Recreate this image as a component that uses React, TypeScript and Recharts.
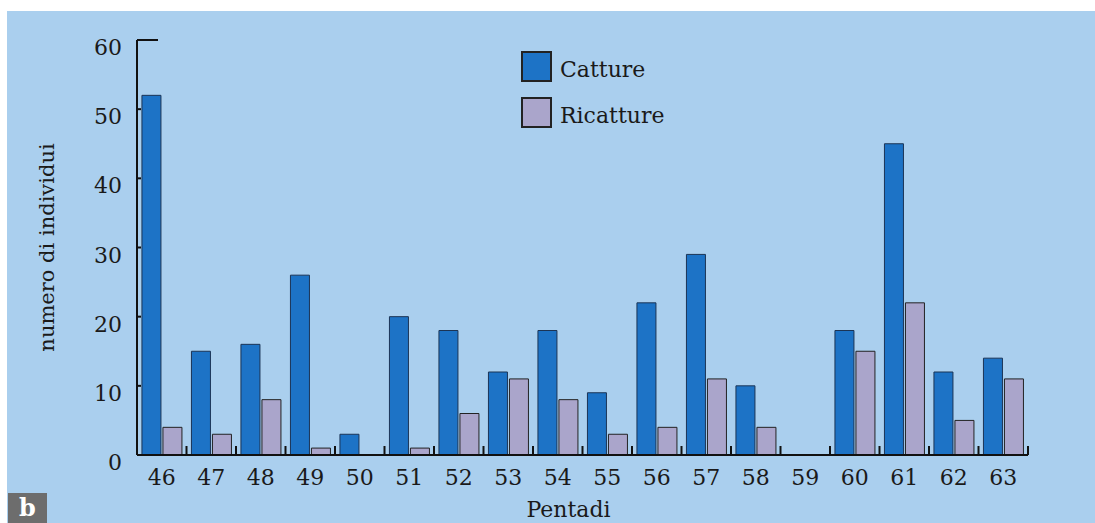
import React from 'react';
import { BarChart, Bar, XAxis, YAxis, Legend, Label } from 'recharts';

const pentadi = ['46', '47', '48', '49', '50', '51', '52', '53', '54', '55', '56', '57', '58', '59', '60', '61', '62', '63'];
const catture = [52, 15, 16, 26, 3, 20, 18, 12, 18, 9, 22, 29, 10, 0, 18, 45, 12, 14];
const ricatture = [4, 3, 8, 1, 0, 1, 6, 11, 8, 3, 4, 11, 4, 0, 15, 22, 5, 11];
const yTicks = [0, 10, 20, 30, 40, 50, 60];

const data = pentadi.map((p, i) => ({ p, catture: catture[i], ricatture: ricatture[i] }));

const FONT = '"DejaVu Serif", "Liberation Serif", serif';
const BG = '#aacfee';
const BLUE = '#1d73c6';
const LAV = '#aaa5cb';

const YTick = (props: any) => {
  const { x, y, payload } = props;
  const v = payload.value;
  return (
    <g>
      <text x={x - 15} y={y + 15} textAnchor="end" fontFamily={FONT} fontSize={22} fill="#1a1a1a">
        {v}
      </text>
      {v === 60 && <line x1={x} x2={x + 21} y1={y} y2={y} stroke="#111" strokeWidth={2} />}
      {v > 0 && v < 60 && <line x1={x} x2={x + 4} y1={y} y2={y} stroke="#111" strokeWidth={2} />}
    </g>
  );
};

const XTick = (props: any) => {
  const { x, y, payload, width, visibleTicksCount } = props;
  const half = payload && payload.offset ? payload.offset : width / visibleTicksCount / 2;
  return (
    <g>
      <text x={x} y={y + 30} textAnchor="middle" fontFamily={FONT} fontSize={22} fill="#1a1a1a">
        {payload.value}
      </text>
      <line x1={x + half} x2={x + half} y1={y} y2={y - 9} stroke="#111" strokeWidth={2} />
    </g>
  );
};

const LegendContent = (props: any) => {
  const { payload } = props;
  return (
    <div style={{ fontFamily: FONT }}>
      {(payload || []).map((e: any) => (
        <div key={e.value} style={{ display: 'flex', alignItems: 'center', height: 46 }}>
          <div
            style={{
              width: 27,
              height: 27,
              background: e.color,
              border: '2px solid #222',
              marginRight: 8,
            }}
          />
          <span style={{ fontSize: 22, color: '#1a1a1a', marginTop: 6 }}>{e.value}</span>
        </div>
      ))}
    </div>
  );
};

export default function App() {
  return (
    <div style={{ position: 'absolute', left: 0, top: 0, width: 1095, height: 523, background: '#ffffff', overflow: 'hidden' }}>
      <div style={{ position: 'absolute', left: 7, top: 11, width: 1088, height: 512, background: BG }} />
      <div style={{ position: 'absolute', left: 0, top: 0 }}>
        <BarChart
          width={1095}
          height={523}
          data={data}
          margin={{ top: 40, right: 67, bottom: 38, left: 0 }}
          barCategoryGap="10%"
          barGap={2}
        >
          <XAxis
            dataKey="p"
            height={30}
            tickSize={0}
            tickMargin={0}
            tickLine={false}
            interval={0}
            axisLine={{ stroke: '#111', strokeWidth: 2 }}
            tick={<XTick />}
          >
            <Label
              value="Pentadi"
              content={(p: any) => {
                const vb = p.viewBox;
                return (
                  <text x={vb.x + vb.width / 2 - 14} y={vb.y + 62} textAnchor="middle" fontFamily={FONT} fontSize={22} fill="#1a1a1a">
                    Pentadi
                  </text>
                );
              }}
            />
          </XAxis>
          <YAxis
            width={137}
            domain={[0, 60]}
            ticks={yTicks}
            tickSize={0}
            tickMargin={0}
            tickLine={false}
            interval={0}
            axisLine={{ stroke: '#111', strokeWidth: 2 }}
            tick={<YTick />}
          >
            <Label
              value="numero di individui"
              content={(p: any) => {
                const vb = p.viewBox;
                const cx = 47;
                const cy = vb.y + vb.height / 2;
                return (
                  <text
                    x={cx}
                    y={cy}
                    transform={`rotate(-90, ${cx}, ${cy})`}
                    textAnchor="middle"
                    dominantBaseline="central"
                    fontFamily={FONT}
                    fontSize={21}
                    fill="#1a1a1a"
                  >
                    numero di individui
                  </text>
                );
              }}
            />
          </YAxis>
          <Legend
            layout="vertical"
            verticalAlign="middle"
            align="center"
            content={<LegendContent />}
            wrapperStyle={{ position: 'absolute', left: 521, top: 43, width: 220 }}
          />
          <Bar dataKey="catture" name="Catture" fill={BLUE} stroke="#1b3455" strokeWidth={1} isAnimationActive={false} />
          <Bar dataKey="ricatture" name="Ricatture" fill={LAV} stroke="#222" strokeWidth={1} isAnimationActive={false} />
        </BarChart>
      </div>
      <div
        style={{
          position: 'absolute',
          left: 8,
          top: 493,
          width: 39,
          height: 30,
          background: '#6d6d6d',
          color: '#fff',
          fontFamily: FONT,
          fontWeight: 'bold',
          fontSize: 24,
          lineHeight: '30px',
          textAlign: 'center',
          overflow: 'hidden',
        }}
      >
        b
      </div>
    </div>
  );
}
